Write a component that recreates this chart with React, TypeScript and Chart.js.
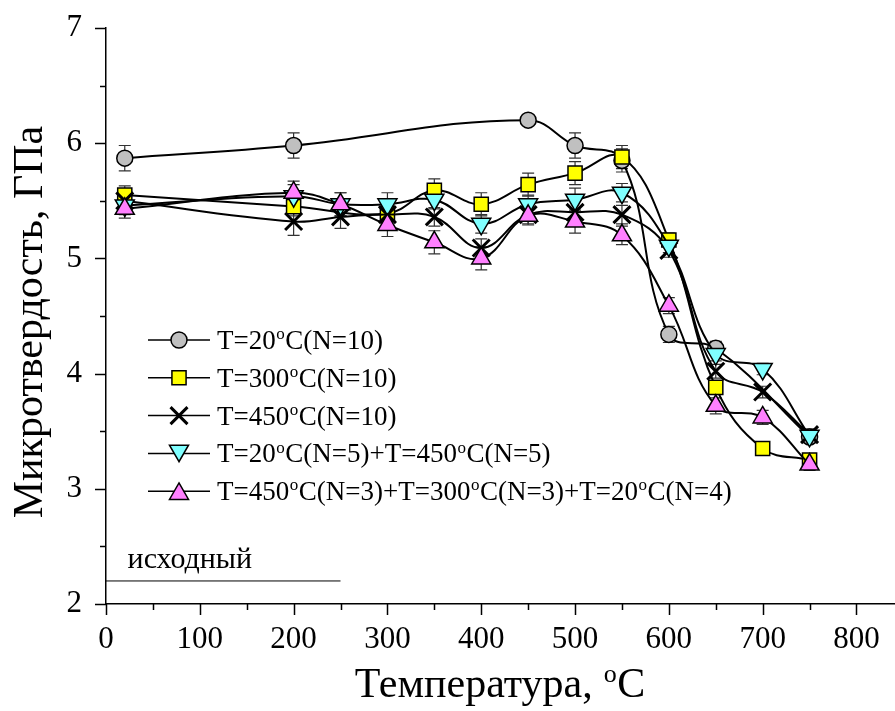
import React, { useEffect, useRef } from 'react';
import { Chart, registerables } from 'chart.js';
import { drawPoint } from 'chart.js/helpers';

Chart.register(...registerables);

// ---------- DATA ----------
const temps = [20, 200, 250, 300, 350, 400, 450, 500, 550, 600, 650, 700, 750];

const labels = [
  'T=20°C(N=10)',
  'T=300°C(N=10)',
  'T=450°C(N=10)',
  'T=20°C(N=5)+T=450°C(N=5)',
  'T=450°C(N=3)+T=300°C(N=3)+T=20°C(N=4)',
];

const hv20 = [5.87, 5.98, null, null, null, null, 6.2, 5.98, 5.85, 4.34, 4.22, null, 3.45];
const hv300 = [5.55, 5.45, null, 5.39, 5.59, 5.47, 5.64, 5.74, 5.88, 5.16, 3.88, 3.35, 3.25];
const hv450 = [5.5, 5.32, 5.36, 5.38, 5.36, 5.09, 5.38, 5.4, 5.38, 5.07, 4.02, 3.84, 3.47];
const hvMix2 = [5.46, 5.54, 5.47, 5.47, 5.51, 5.3, 5.47, 5.51, 5.57, 5.11, 4.17, 4.04, 3.46];
const hvMix3 = [5.43, 5.57, 5.47, 5.29, 5.14, 5.0, 5.37, 5.32, 5.2, 4.59, 3.72, 3.62, 3.21];

const err20 = [0.11, 0.11, null, null, null, null, 0, 0.11, 0.1, 0.07, 0.06, null, 0.05];
const err300 = [0.08, 0.08, null, 0.07, 0.1, 0.1, 0.1, 0.1, 0.1, 0.06, 0.06, 0.03, 0.03];
const err450 = [0.07, 0.12, 0.1, 0.1, 0.08, 0.08, 0.08, 0.1, 0.08, 0.06, 0.06, 0.05, 0.05];
const errMix2 = [0.08, 0.1, 0.1, 0.1, 0.08, 0.08, 0.08, 0.1, 0.08, 0.06, 0.06, 0.05, 0.05];
const errMix3 = [0.08, 0.1, 0.1, 0.1, 0.1, 0.1, 0.08, 0.1, 0.08, 0.07, 0.07, 0.06, 0.05];

const xTicks = [0, 100, 200, 300, 400, 500, 600, 700, 800];
const yTicks = [2, 3, 4, 5, 6, 7];

const initialX = [0, 250];
const initialY = [2.2, 2.2];
const initialLabel = 'исходный';
const initialLabelPos = [23, 2.31];

const xTitle = 'Температура, °C';
const yTitle = 'Микротвердость, ГПа';

// ---------- STYLES ----------
const FONT = '"Liberation Serif", "Times New Roman", serif';
const styles = [
  { pointStyle: 'circle', radius: 8, bg: '#C0C0C0', bw: 1.5, rot: 0 },
  { pointStyle: 'rect', radius: 10, bg: '#FFFF00', bw: 1.5, rot: 0 },
  { pointStyle: 'crossRot', radius: 12, bg: '#000000', bw: 3, rot: 0 },
  { pointStyle: 'triangle', radius: 11, bg: '#80FFFF', bw: 1.5, rot: 180 },
  { pointStyle: 'triangle', radius: 11, bg: '#FF80FF', bw: 1.5, rot: 0 },
];
const seriesValues = [hv20, hv300, hv450, hvMix2, hvMix3];
const seriesErrors = [err20, err300, err450, errMix2, errMix3];

function drawRich(ctx: CanvasRenderingContext2D, text: string, x: number, y: number, size: number, align: 'left' | 'center') {
  const parts = text.split('°');
  const segs: { t: string; sup: boolean }[] = [];
  parts.forEach((p, i) => {
    if (i > 0) segs.push({ t: 'o', sup: true });
    if (p) segs.push({ t: p, sup: false });
  });
  const mainFont = `${size}px ${FONT}`;
  const supFont = `${Math.round(size * 0.62)}px ${FONT}`;
  let total = 0;
  const widths = segs.map((s) => {
    ctx.font = s.sup ? supFont : mainFont;
    const w = ctx.measureText(s.t).width + (s.sup ? 1 : 0);
    total += w;
    return w;
  });
  let cx = align === 'center' ? x - total / 2 : x;
  ctx.textAlign = 'left';
  ctx.textBaseline = 'alphabetic';
  ctx.fillStyle = '#000';
  segs.forEach((s, i) => {
    ctx.font = s.sup ? supFont : mainFont;
    ctx.fillText(s.t, cx + (s.sup ? 0.5 : 0), s.sup ? y - size * 0.36 : y);
    cx += widths[i];
  });
}

const customPlugin = {
  id: 'custom',
  beforeDatasetsDraw(chart: any) {
    const ctx = chart.ctx;
    const xs = chart.scales.x;
    const ys = chart.scales.y;
    ctx.save();
    ctx.strokeStyle = '#333';
    ctx.lineWidth = 1.2;
    seriesValues.forEach((vals, si) => {
      vals.forEach((v, i) => {
        const e = seriesErrors[si][i];
        if (v == null || !e) return;
        const px = xs.getPixelForValue(temps[i]);
        const top = ys.getPixelForValue(v + e);
        const bot = ys.getPixelForValue(v - e);
        ctx.beginPath();
        ctx.moveTo(px, top);
        ctx.lineTo(px, bot);
        ctx.moveTo(px - 6, top);
        ctx.lineTo(px + 6, top);
        ctx.moveTo(px - 6, bot);
        ctx.lineTo(px + 6, bot);
        ctx.stroke();
      });
    });
    ctx.restore();
  },
  afterDraw(chart: any) {
    const ctx = chart.ctx;
    const xs = chart.scales.x;
    const ys = chart.scales.y;
    const area = chart.chartArea;
    ctx.save();
    // ticks
    ctx.strokeStyle = '#000';
    ctx.lineWidth = 1.5;
    ctx.beginPath();
    for (let v = 0; v <= 800; v += 50) {
      const px = Math.round(xs.getPixelForValue(v)) + 0.5;
      const len = v % 100 === 0 ? 11 : 6;
      ctx.moveTo(px, area.bottom);
      ctx.lineTo(px, area.bottom + len);
    }
    for (let v = 2; v <= 7; v += 0.5) {
      const py = Math.round(ys.getPixelForValue(v)) + 0.5;
      const len = Number.isInteger(v) ? 11 : 6;
      ctx.moveTo(area.left, py);
      ctx.lineTo(area.left - len, py);
    }
    ctx.stroke();

    // legend
    const lx0 = area.left + 42;
    const lxm = area.left + 73;
    const lx1 = area.left + 104;
    const tx = area.left + 111;
    labels.forEach((lab, i) => {
      const ry = area.top + 312 + i * 37.8;
      ctx.strokeStyle = '#000';
      ctx.lineWidth = 1.5;
      ctx.beginPath();
      ctx.moveTo(lx0, ry);
      ctx.lineTo(lx1, ry);
      ctx.stroke();
      const st = styles[i];
      ctx.fillStyle = st.bg;
      ctx.strokeStyle = '#000';
      ctx.lineWidth = st.bw;
      const dy = st.pointStyle === 'triangle' ? (st.rot ? -st.radius * 0.25 : st.radius * 0.25) : 0;
      drawPoint(ctx, { pointStyle: st.pointStyle as any, radius: st.radius, rotation: st.rot, borderWidth: st.bw }, lxm, ry + dy);
      drawRich(ctx, lab, tx, ry + 9, 27, 'left');
    });

    // initial label
    ctx.font = `30px ${FONT}`;
    ctx.fillStyle = '#000';
    ctx.textAlign = 'left';
    ctx.textBaseline = 'alphabetic';
    ctx.fillText(initialLabel, xs.getPixelForValue(initialLabelPos[0]), ys.getPixelForValue(initialLabelPos[1]));

    // axis titles
    drawRich(ctx, xTitle, 500, 697, 42, 'center');
    ctx.save();
    ctx.translate(42, 322);
    ctx.rotate(-Math.PI / 2);
    drawRich(ctx, yTitle, 0, 0, 42, 'center');
    ctx.restore();
    ctx.restore();
  },
};

export default function App() {
  const ref = useRef<HTMLCanvasElement | null>(null);
  useEffect(() => {
    if (!ref.current) return;
    const datasets: any[] = seriesValues.map((vals, si) => {
      const st = styles[si];
      return {
        label: labels[si],
        data: temps
          .map((t, i) => ({ x: t, y: vals[i] }))
          .filter((p) => p.y != null),
        borderColor: '#000',
        borderWidth: 2,
        tension: 0.4,
        pointStyle: st.pointStyle,
        pointRadius: st.radius,
        pointRotation: st.rot,
        pointBackgroundColor: st.bg,
        pointBorderColor: '#000',
        pointBorderWidth: st.bw,
        order: 5 - si,
      };
    });
    datasets.push({
      label: 'initial',
      data: initialX.map((x, i) => ({ x, y: initialY[i] })),
      borderColor: '#000',
      borderWidth: 1,
      pointRadius: 0,
      tension: 0,
      order: 10,
    });
    const chart = new Chart(ref.current, {
      type: 'line',
      data: { datasets },
      options: {
        animation: false,
        responsive: false,
        layout: { autoPadding: false, padding: { top: 28, right: 1, left: 0, bottom: 0 } },
        plugins: { legend: { display: false }, tooltip: { enabled: false } },
        scales: {
          x: {
            type: 'linear',
            min: 0,
            max: 840,
            grid: { display: false },
            border: { display: true, color: '#000', width: 1.5 },
            ticks: { font: { family: FONT, size: 31 }, color: '#000', padding: 9, maxRotation: 0 },
            afterBuildTicks: (s: any) => {
              s.ticks = xTicks.map((v) => ({ value: v }));
            },
            afterFit: (s: any) => {
              s.height = 107;
              s.paddingLeft = 0;
              s.paddingRight = 0;
              s.paddingTop = 0;
              s.paddingBottom = 0;
            },
          },
          y: {
            type: 'linear',
            min: 2,
            max: 7,
            grid: { display: false },
            border: { display: true, color: '#000', width: 1.5 },
            ticks: { font: { family: FONT, size: 31 }, color: '#000', padding: 16 },
            afterBuildTicks: (s: any) => {
              s.ticks = yTicks.map((v) => ({ value: v }));
            },
            afterFit: (s: any) => {
              s.width = 106;
              s.paddingLeft = 0;
              s.paddingRight = 0;
              s.paddingTop = 0;
              s.paddingBottom = 0;
            },
          },
        },
      },
      plugins: [customPlugin],
    });
    return () => chart.destroy();
  }, []);
  return (
    <div style={{ position: 'fixed', left: 0, top: 0, width: 895, height: 711, background: '#fff' }}>
      <canvas ref={ref} width={895} height={711} style={{ display: 'block' }} />
    </div>
  );
}
